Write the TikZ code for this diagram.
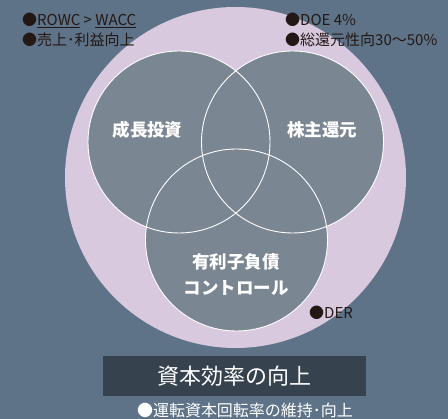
\documentclass[tikz,border=0pt]{standalone}
\usepackage{fontspec}
\setmainfont{Noto Sans CJK JP}
\definecolor{bgc}{HTML}{5E7388}
\definecolor{lav}{HTML}{D9C9DF}
\definecolor{venn}{HTML}{7B8693}
\definecolor{boxc}{HTML}{36434F}
\definecolor{ink}{HTML}{231815}
\tikzset{
  vennfill/.style={circle, fill=venn, minimum size=182pt, inner sep=0pt},
  vennline/.style={draw=white, line width=0.9pt},
  venntext/.style={text=white, font=\bfseries\fontsize{17.5}{20}\selectfont, inner sep=0pt},
  note/.style={text=ink, font=\fontsize{15}{17}\selectfont, anchor=west, inner sep=0pt},
}
\begin{document}
\begin{tikzpicture}[x=1pt,y=-1pt]
\fill[bgc] (0,0) rectangle (448,419);
\useasboundingbox (0,0) rectangle (448,419);
\node[circle, fill=lav, minimum size=341pt, inner sep=0pt] (outer) at (235.5,177.5) {};
\node[vennfill] (grow) at (179,142) {};
\node[vennfill] (ret) at (292.5,142) {};
\node[vennfill] (debt) at (236.5,240) {};
\draw[vennline] (grow.center) circle (91pt);
\draw[vennline] (ret.center) circle (91pt);
\draw[vennline] (debt.center) circle (91pt);
\node[venntext] (t1) at (147.5,130) {成長投資};
\node[venntext] (t2) at (322,130) {株主還元};
\node[venntext, align=center, font=\bfseries\fontsize{17.5}{26}\selectfont] (t3) at (236,275) {有利子負債\\コントロール};
\node[note] (n1) at (22,20) {●\underline{ROWC} > \underline{WACC}};
\node[note] (n2) at (22,40) {●売上･利益向上};
\node[note] (n3) at (285,20) {●DOE 4\%};
\node[note] (n4) at (285,40) {●総還元性向30～50\%};
\node[note] (n5) at (309,313) {●DER};
\node[fill=boxc, minimum width=263pt, minimum height=40pt, inner sep=0pt, text=white, font=\fontsize{22}{26}\selectfont] (eff) at (234.5,376) {資本効率の向上};
\node[text=white, inner sep=0pt, font=\fontsize{16}{18}\selectfont] (n6) at (245,410) {●運転資本回転率の維持･向上};
\end{tikzpicture}
\end{document}
